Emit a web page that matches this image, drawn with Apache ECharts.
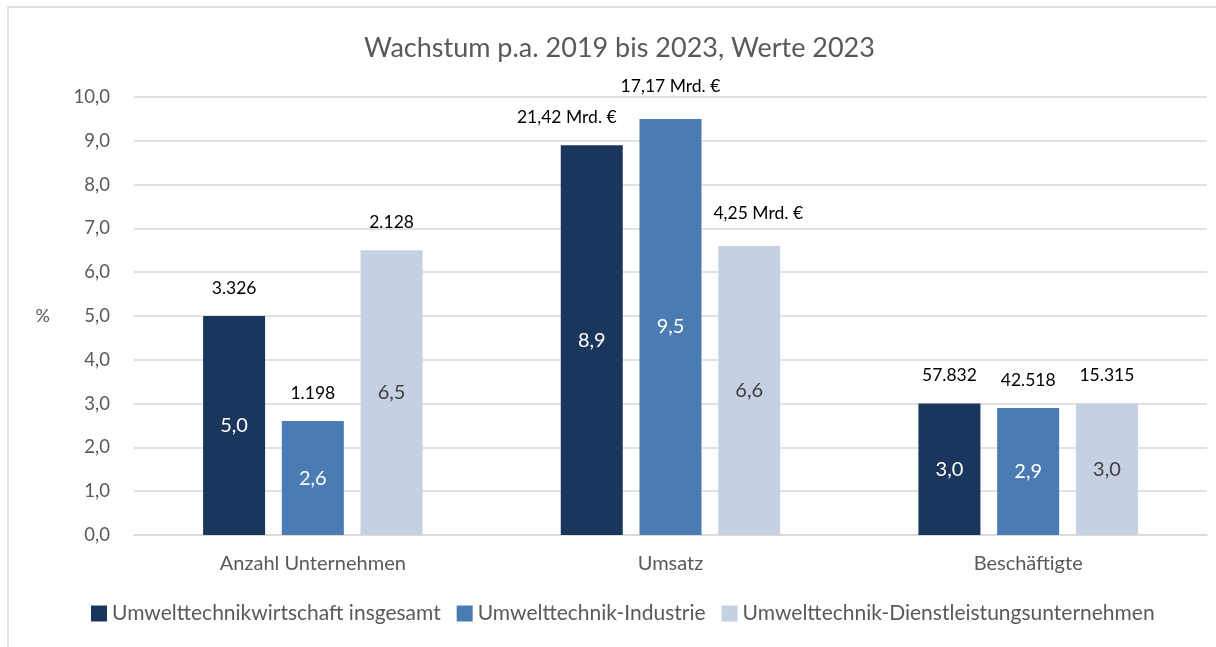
<!DOCTYPE html>
<html>
<head>
<meta charset="utf-8">
<script src="https://cdn.jsdelivr.net/npm/echarts@6/dist/echarts.min.js"></script>
<style>
  html, body { margin: 0; padding: 0; background: #fff; }
  #chart { width: 1216px; height: 647px; }
</style>
</head>
<body>
<div id="chart"></div>
<script>
const categories = ['Anzahl Unternehmen', 'Umsatz', 'Beschäftigte']
const seriesNames = ['Umwelttechnikwirtschaft insgesamt', 'Umwelttechnik-Industrie', 'Umwelttechnik-Dienstleistungsunternehmen']
const gesamt = [5.0, 8.9, 3.0]
const industrie = [2.6, 9.5, 2.9]
const dienst = [6.5, 6.6, 3.0]
const gesamtWerte = ['3.326', '21,42 Mrd. €', '57.832']
const industrieWerte = ['1.198', '17,17 Mrd. €', '42.518']
const dienstWerte = ['2.128', '4,25 Mrd. €', '15.315']
const yTicks = [0, 10, 1]

const colors = ['#1b365d', '#4a7bb5', '#c5d0e2']
const insideColors = ['#ffffff', '#ffffff', '#404040']
// small nudges of the Umsatz labels, as in the original
const topOffsets = [
  [[0, 0], [-25, 0], [0, 0]],
  [[0, 0], [0, -5], [0, 0]],
  [[0, 0], [9, -5], [0, 0]]
]
const values = [gesamt, industrie, dienst]
const topTexts = [gesamtWerte, industrieWerte, dienstWerte]
const fmt = v => v.toFixed(1).replace('.', ',')
const FONT = 'Lato, "Open Sans", sans-serif'

const series = []
values.forEach((vals, i) => {
  series.push({
    name: seriesNames[i],
    type: 'bar',
    stack: 's' + i,
    barWidth: 62,
    barGap: '27%',
    data: vals,
    itemStyle: { color: colors[i] },
    label: {
      show: true,
      position: 'inside',
      color: insideColors[i],
      fontSize: 20,
      fontFamily: FONT,
      formatter: p => fmt(p.value)
    }
  })
})
// zero-height bars on top of each stack, only to carry the absolute values
values.forEach((vals, i) => {
  series.push({
    name: 'top' + i,
    type: 'bar',
    stack: 's' + i,
    barWidth: 62,
    barGap: '27%',
    data: vals.map((v, j) => ({ value: 0, label: { offset: topOffsets[i][j] } })),
    itemStyle: { color: 'transparent' },
    label: {
      show: true,
      position: 'top',
      distance: 19,
      color: '#000',
      fontSize: 17.5,
      fontFamily: FONT,
      formatter: p => topTexts[i][p.dataIndex]
    }
  })
})

const myChart = echarts.init(document.getElementById('chart'))
const option = {
  backgroundColor: '#fff',
  animation: false,
  textStyle: { fontFamily: FONT },
  title: {
    text: 'Wachstum p.a. 2019 bis 2023, Werte 2023',
    left: 359,
    top: 30,
    textStyle: { fontSize: 27, fontWeight: 'normal', color: '#595959', fontFamily: FONT }
  },
  legend: {
    data: seriesNames,
    bottom: 18,
    left: 86,
    itemWidth: 16,
    itemHeight: 16,
    itemGap: 16,
    icon: 'rect',
    textStyle: { fontSize: 21, color: '#595959', fontFamily: FONT }
  },
  grid: { left: 134, right: 9, top: 97, bottom: 112 },
  xAxis: {
    type: 'category',
    data: categories,
    axisLine: { lineStyle: { color: '#d9d9d9', width: 1.5 } },
    axisTick: { show: false },
    axisLabel: { fontSize: 20, color: '#595959', margin: 19, fontFamily: FONT }
  },
  yAxis: {
    type: 'value',
    min: yTicks[0],
    max: yTicks[1],
    interval: yTicks[2],
    name: '%',
    nameLocation: 'middle',
    nameRotate: 0,
    nameGap: 84,
    nameTextStyle: { fontSize: 18, color: '#595959', fontFamily: FONT },
    axisLabel: { fontSize: 18.5, color: '#595959', margin: 24, formatter: v => fmt(v), fontFamily: FONT },
    splitLine: { lineStyle: { color: '#d9d9d9', width: 1.5 } },
    axisLine: { show: false },
    axisTick: { show: false }
  },
  graphic: [{
    type: 'rect',
    shape: { x: 8, y: 7, width: 1230, height: 700 },
    style: { fill: 'none', stroke: '#d9d9d9', lineWidth: 1.5 },
    silent: true
  }],
  series: series
}
myChart.setOption(option)
</script>
</body>
</html>
